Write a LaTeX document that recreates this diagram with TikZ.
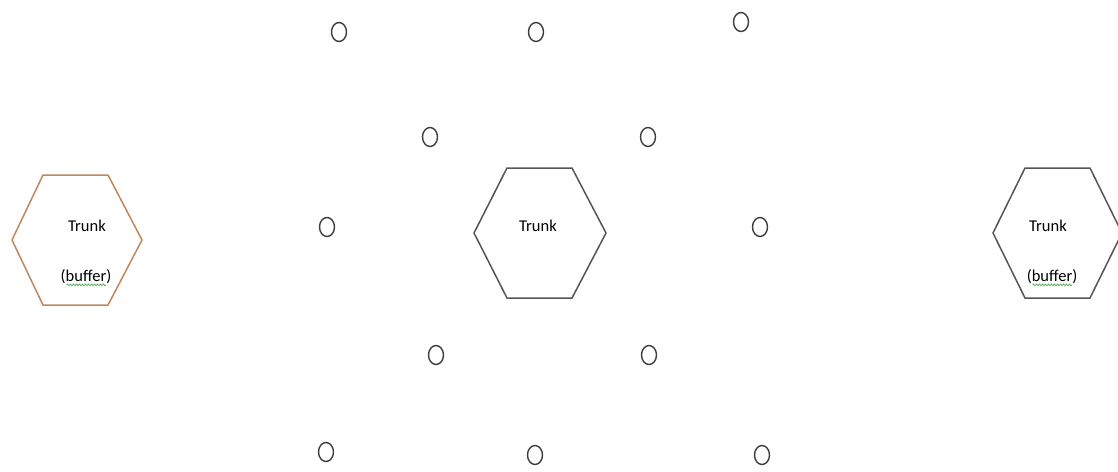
\documentclass[tikz,border=0pt]{standalone}
\usepackage{fontspec}
\setmainfont{Carlito}
\usetikzlibrary{shapes.geometric,decorations.pathmorphing}
\definecolor{hexgray}{RGB}{85,85,85}
\definecolor{hexbrown}{RGB}{190,135,92}
\definecolor{ogray}{RGB}{60,60,60}
\definecolor{squiggreen}{RGB}{90,170,90}
\tikzset{
  hexline/.style={line width=1.5pt, draw=hexgray, line join=miter},
  hexbrownline/.style={line width=1.5pt, draw=hexbrown, line join=miter},
  ring/.style={ellipse, draw=ogray, line width=1.4pt, minimum width=15pt, minimum height=19pt, inner sep=0pt},
  lbl/.style={font=\fontsize{16.5}{19}\selectfont, text=black, inner sep=0pt},
  squig/.style={draw=squiggreen, line width=0.7pt, decorate, decoration={snake, amplitude=0.9pt, segment length=3pt}}
}
\begin{document}
\begin{tikzpicture}[x=1pt,y=-1pt]
\useasboundingbox (0,0) rectangle (1118,471);
% hexagons
\draw[hexbrownline] (12,240) -- (43,175) -- (108,175) -- (142,240) -- (108,305) -- (43,305) -- cycle;
\draw[hexline] (474,233) -- (507,168) -- (572,168) -- (606,233) -- (572,298) -- (507,298) -- cycle;
\draw[hexline] (1122,233) -- (1090,168) -- (1025,168) -- (993,233) -- (1025,298) -- (1090,298) -- cycle;
% labels
\node[lbl] (t1) at (87,226) {Trunk};
\node[lbl] (b1) at (86,277) {(buffer)};
\node[lbl] (t2) at (538,226) {Trunk};
\node[lbl] (t3) at (1048,226) {Trunk};
\node[lbl] (b3) at (1052,277) {(buffer)};
\draw[squig] ([xshift=6pt,yshift=-3pt]b1.base west) -- ([xshift=-5pt,yshift=-3pt]b1.base east);
\draw[squig] ([xshift=6pt,yshift=-3pt]b3.base west) -- ([xshift=-5pt,yshift=-3pt]b3.base east);
% rings
\node[ring] (o1) at (339,32) {};
\node[ring] (o2) at (536,32) {};
\node[ring] (o3) at (741,22) {};
\node[ring] (o4) at (430,137) {};
\node[ring] (o5) at (648,137) {};
\node[ring] (o6) at (327,227) {};
\node[ring] (o7) at (760,227) {};
\node[ring] (o8) at (436,355) {};
\node[ring] (o9) at (649,355) {};
\node[ring] (o10) at (326,452) {};
\node[ring] (o11) at (535,455) {};
\node[ring] (o12) at (762,455) {};
\end{tikzpicture}
\end{document}
